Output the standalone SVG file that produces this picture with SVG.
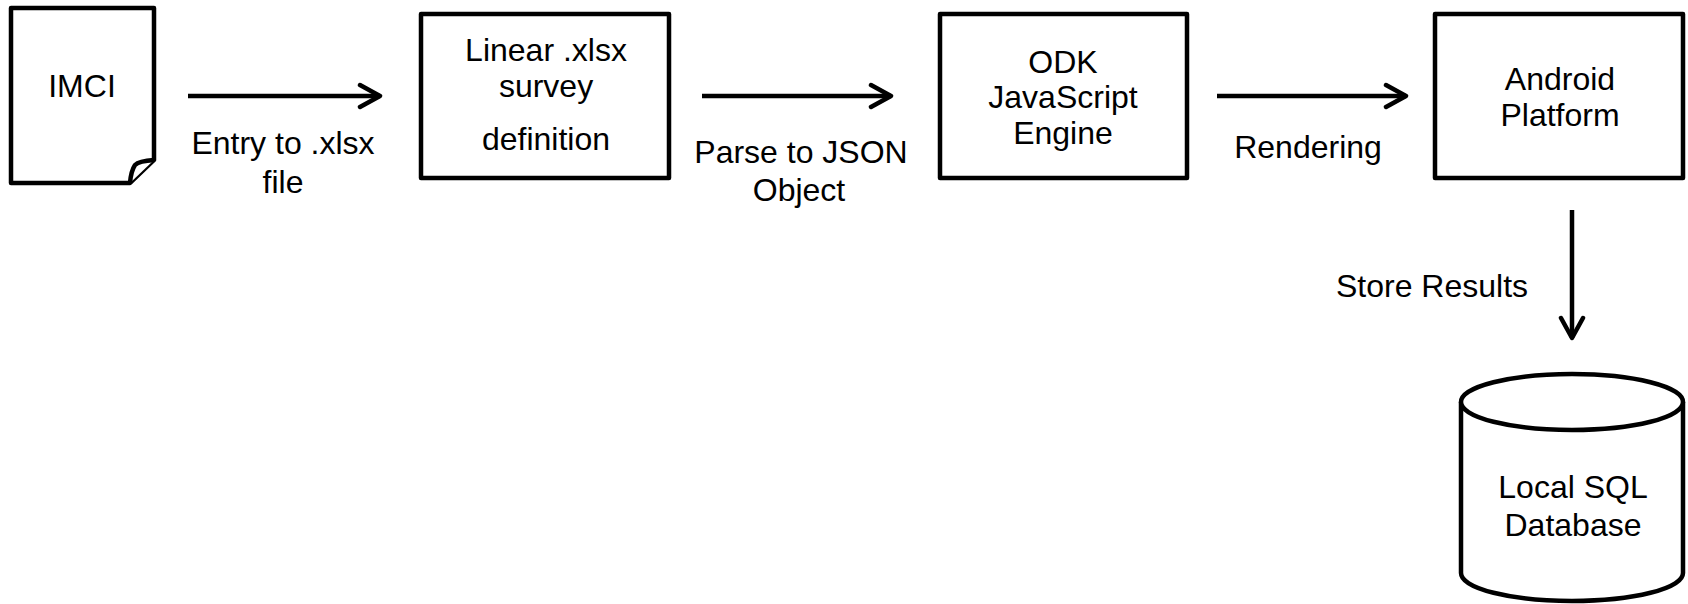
<svg xmlns="http://www.w3.org/2000/svg" width="1688" height="604" viewBox="0 0 1688 604">
<style>
.shape{fill:#fff;stroke:#000;stroke-width:4.5;stroke-linejoin:round}
.edge{fill:none;stroke:#000;stroke-width:4.5}
text{font-family:"Liberation Sans",Arial,sans-serif;font-size:32px;fill:#000;text-anchor:middle}
</style>
<defs>
<marker id="arr" markerUnits="userSpaceOnUse" viewBox="0 0 26 28" refX="23" refY="14" markerWidth="26" markerHeight="28" orient="auto">
<path d="M3,3 L23,14 L3,25" fill="none" stroke="#000" stroke-width="4.5" stroke-linecap="round" stroke-linejoin="round"/>
</marker>
</defs>
<rect width="1688" height="604" fill="#fff"/>
<g id="connectors">
<line class="edge" x1="188" y1="96" x2="380" y2="96" marker-end="url(#arr)"/>
<line class="edge" x1="702" y1="96" x2="891" y2="96" marker-end="url(#arr)"/>
<line class="edge" x1="1217" y1="96" x2="1406" y2="96" marker-end="url(#arr)"/>
<line class="edge" x1="1572" y1="210" x2="1572" y2="338" marker-end="url(#arr)"/>
<text x="283" y="154">Entry to .xlsx</text>
<text x="283" y="193">file</text>
<text x="801" y="163">Parse to JSON</text>
<text x="799" y="201">Object</text>
<text x="1308" y="158">Rendering</text>
<text x="1432" y="297">Store Results</text>
</g>
<g id="imci">
<path class="shape" d="M11,8 H154 V160 L130,183 H11 Z"/>
<path class="shape" d="M154,160 Q139,161 135,165 Q131,171 130,183"/>
<text x="82" y="97">IMCI</text>
</g>
<g id="linear">
<rect class="shape" x="421" y="14" width="248" height="164"/>
<text x="546" y="61">Linear .xlsx</text>
<text x="546" y="97">survey</text>
<text x="546" y="150">definition</text>
</g>
<g id="odk">
<rect class="shape" x="940" y="14" width="247" height="164"/>
<text x="1063" y="73">ODK</text>
<text x="1063" y="108">JavaScript</text>
<text x="1063" y="144">Engine</text>
</g>
<g id="android">
<rect class="shape" x="1435" y="14" width="248" height="164"/>
<text x="1560" y="90">Android</text>
<text x="1560" y="126">Platform</text>
</g>
<g id="database">
<path class="shape" d="M1461,402 V573 A111,28 0 0 0 1683,573 V402"/>
<ellipse class="shape" cx="1572" cy="402" rx="111" ry="28"/>
<text x="1573" y="498">Local SQL</text>
<text x="1573" y="536">Database</text>
</g>
</svg>
